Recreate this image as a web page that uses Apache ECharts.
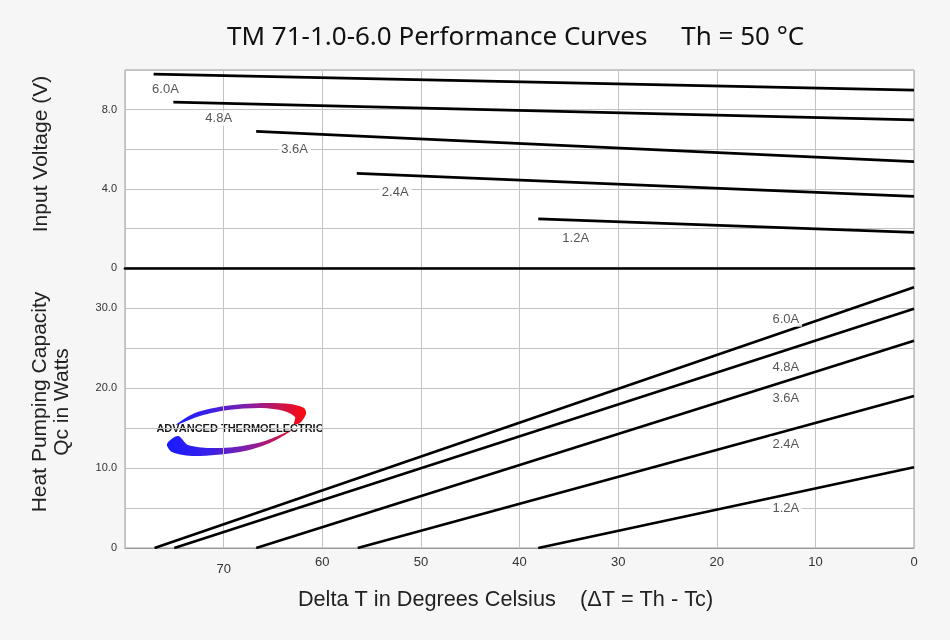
<!DOCTYPE html>
<html><head><meta charset="utf-8">
<script src="https://cdn.jsdelivr.net/npm/echarts@6/dist/echarts.min.js"></script>
<style>html,body{margin:0;padding:0;background:#f6f6f6}#c{width:950px;height:640px}</style>
</head><body><div id="c"></div>
<script>
// ---- data ----
const currents = ['6.0A', '4.8A', '3.6A', '2.4A', '1.2A'];
const voltStartDeltaT = [77.1, 75.1, 66.7, 56.5, 38.1];
const voltStart = [9.79, 8.38, 6.90, 4.78, 2.48];
const voltAtZero = [8.98, 7.48, 5.37, 3.62, 1.80];
const qcZeroDeltaT = [77.0, 75.0, 66.7, 56.4, 38.1];
const qcAtZero = [32.6, 29.9, 25.9, 19.0, 10.1];
const voltLabelAt = [[75.9, 9.0], [70.5, 7.55], [62.8, 6.0], [52.6, 3.8], [34.3, 1.5]];
const qcLabelAt = [[13, 28.6], [13, 22.6], [13, 18.75], [13, 13.0], [13, 4.9]];
const xTickLabels = {0: '0', 10: '10', 20: '20', 30: '30', 40: '40', 50: '50', 60: '60', 70: '70'};
const voltTickLabels = {0: '0', 4: '4.0', 8: '8.0'};
const qcTickLabels = {0: '0', 10: '10.0', 20: '20.0', 30: '30.0'};

const chart = echarts.init(document.getElementById('c'));
const FONT = '"Liberation Sans", Arial, sans-serif';
const gridLine = {show: true, lineStyle: {color: '#c2c2c2', width: 1}};

const series = [];
currents.forEach((c, i) => {
  series.push({
    type: 'line', xAxisIndex: 0, yAxisIndex: 0, silent: true, symbol: 'none',
    data: [[voltStartDeltaT[i], voltStart[i]], [0, voltAtZero[i]]],
    lineStyle: {color: '#000', width: 2.7}
  });
  series.push({
    type: 'line', xAxisIndex: 1, yAxisIndex: 1, silent: true, symbol: 'none',
    data: [[qcZeroDeltaT[i], 0], [0, qcAtZero[i]]],
    lineStyle: {color: '#000', width: 2.7}
  });
});
const labelStyle = {
  show: true, position: 'inside', fontFamily: FONT, fontSize: 13, color: '#2a2a2a',
  backgroundColor: '#fff', padding: [1, 3],
  formatter: p => currents[p.dataIndex]
};
series.push({type: 'scatter', xAxisIndex: 0, yAxisIndex: 0, silent: true, symbolSize: 1,
  itemStyle: {color: 'rgba(0,0,0,0)'}, data: voltLabelAt, label: labelStyle, z: 5});
series.push({type: 'scatter', xAxisIndex: 1, yAxisIndex: 1, silent: true, symbolSize: 1,
  itemStyle: {color: 'rgba(0,0,0,0)'}, data: qcLabelAt, label: labelStyle, z: 5});

const logoGrad = {
  type: 'linear', x: 168, y: 0, x2: 306, y2: 0, global: true,
  colorStops: [{offset: 0, color: '#1a1aff'}, {offset: 0.3, color: '#3a20e8'}, {offset: 0.6, color: '#8a1fa0'}, {offset: 1, color: '#ff0a0a'}]
};

chart.setOption({
  backgroundColor: '#f6f6f6',
  animation: false,
  title: {
    text: 'TM 71-1.0-6.0 Performance Curves     Th = 50 °C',
    left: 222, top: 20,
    textStyle: {fontFamily: '"Noto Sans", sans-serif', fontSize: 26, fontWeight: 'normal', color: '#111'}
  },
  grid: [
    {left: 125, right: 36, top: 70, height: 198, show: true, backgroundColor: '#fff', borderColor: '#9a9a9a', borderWidth: 1},
    {left: 125, right: 36, top: 268, height: 280, show: true, backgroundColor: '#fff', borderColor: '#9a9a9a', borderWidth: 1}
  ],
  xAxis: [
    {gridIndex: 0, type: 'value', min: 0, max: 80, interval: 10, inverse: true,
      axisLabel: {show: false}, axisTick: {show: false}, splitLine: gridLine,
      axisLine: {show: true, lineStyle: {color: '#000', width: 2.7}}},
    {gridIndex: 1, type: 'value', min: 0, max: 80, interval: 10, inverse: true,
      axisTick: {show: false}, splitLine: gridLine,
      axisLine: {show: true, lineStyle: {color: '#9a9a9a', width: 1}},
      axisLabel: {
        fontFamily: FONT, fontSize: 13, color: '#333', margin: 8,
        formatter: v => v === 70 ? '{low|' + xTickLabels[v] + '}' : (xTickLabels[v] || ''),
        rich: {low: {fontFamily: FONT, fontSize: 13, color: '#333', padding: [7, 0, 0, 0]}}
      },
      name: 'Delta T in Degrees Celsius    (ΔT = Th - Tc)', nameLocation: 'middle', nameGap: 41,
      nameTextStyle: {fontFamily: FONT, fontSize: 21.7, color: '#222', padding: [0, 28, 0, 0]}}
  ],
  yAxis: [
    {gridIndex: 0, type: 'value', min: 0, max: 10, interval: 2,
      axisLine: {show: false}, axisTick: {show: false}, splitLine: gridLine,
      axisLabel: {fontFamily: FONT, fontSize: 11, color: '#333', margin: 8,
        formatter: v => voltTickLabels[v] || ''},
      name: 'Input Voltage (V)', nameLocation: 'middle', nameGap: 73,
      nameTextStyle: {fontFamily: FONT, fontSize: 21, color: '#222', padding: [0, 0, 0, 30]}},
    {gridIndex: 1, type: 'value', min: 0, max: 35, interval: 5,
      axisLine: {show: false}, axisTick: {show: false}, splitLine: gridLine,
      axisLabel: {fontFamily: FONT, fontSize: 11, color: '#333', margin: 8,
        formatter: v => qcTickLabels[v] || ''},
      name: 'Heat Pumping Capacity\nQc in Watts', nameLocation: 'middle', nameGap: 52,
      nameTextStyle: {fontFamily: FONT, fontSize: 21, color: '#222', lineHeight: 22, padding: [0, 0, 0, 12]}}
  ],
  graphic: [
    {type: 'group', silent: true, z: 10, children: [
      {type: 'polygon', shape: {smooth: 0.3, points: [[176,425],[195,413],[225,406],[262,403],[290,404],[304,408],[306,414],[300,423],[294,424],[295,417],[284,411],[262,408],[228,410],[200,416]]},
        style: {fill: logoGrad}},
      {type: 'polygon', shape: {smooth: 0.3, points: [[178,436],[167,444],[172,452],[195,456],[240,452],[270,443],[292,430],[265,441],[235,447],[210,448],[188,445]]},
        style: {fill: logoGrad}},
      {type: 'text', x: 240, y: 429, style: {text: 'ADVANCED THERMOELECTRIC', align: 'center', verticalAlign: 'middle',
        font: 'bold 11px "Liberation Sans", Arial, sans-serif', fill: '#1a1a1a'}}
    ]}
  ],
  series: series
});
</script></body></html>
